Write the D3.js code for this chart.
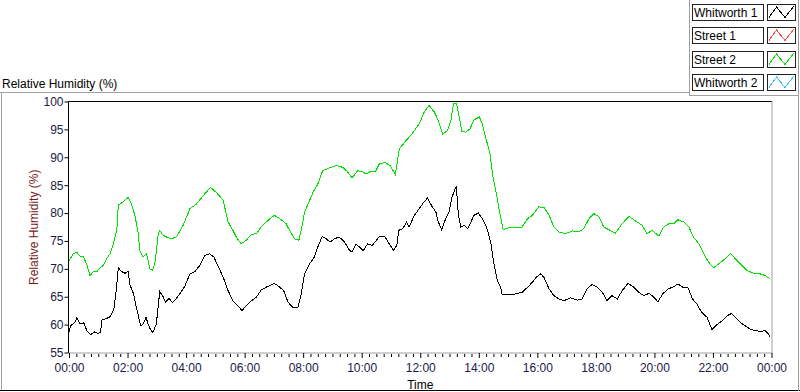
<!DOCTYPE html>
<html>
<head>
<meta charset="utf-8">
<script src="https://cdn.jsdelivr.net/npm/d3@7"></script>
<style>
  body { margin: 0; background: #fff; }
  svg { display: block; font-family: "Liberation Sans", Arial, sans-serif; }
</style>
</head>
<body>
<script>
// Chart size
const width = 800, height = 392;

// Legend entries
const seriesNames = ["Whitworth 1", "Street 1", "Street 2", "Whitworth 2"];
const seriesColors = ["#000000", "#ff4a4a", "#00e000", "#40bfff"];

// Axis ticks
const yTicks = [55, 60, 65, 70, 75, 80, 85, 90, 95, 100];
const xTickMinutes = [0, 120, 240, 360, 480, 600, 720, 840, 960, 1080, 1200, 1320, 1440];
const xTickLabels = ["00:00", "02:00", "04:00", "06:00", "08:00", "10:00", "12:00",
                     "14:00", "16:00", "18:00", "20:00", "22:00", "00:00"];

// Street 2 (green): minutes since midnight / relative humidity
const street2Times = [0, 9, 16, 22, 29, 36, 43, 50, 57, 63, 70, 77, 84, 91, 98, 101, 111, 121, 128, 135,
  142, 145, 152, 159, 162, 166, 171, 176, 183, 186, 193, 200, 210, 220, 234, 248, 261, 275, 290, 302,
  316, 326, 336, 343, 353, 363, 374, 384, 394, 408, 421, 432, 445, 452, 462, 471, 476, 483, 492, 500,
  510, 520, 534, 548, 561, 571, 580, 592, 602, 609, 619, 628, 636, 648, 658, 669, 677, 691, 704, 718,
  728, 738, 749, 757, 766, 776, 783, 788, 794, 800, 805, 813, 822, 830, 841, 846, 854, 863, 868, 875,
  882, 890, 902, 916, 928, 940, 950, 963, 974, 984, 994, 1004, 1018, 1032, 1045, 1055, 1066, 1076, 1086, 1096,
  1107, 1120, 1134, 1148, 1161, 1175, 1185, 1195, 1209, 1219, 1230, 1240, 1248, 1260, 1270, 1280, 1291, 1301, 1311, 1321,
  1332, 1345, 1356, 1366, 1376, 1390, 1403, 1413, 1427, 1437];
const street2Values = [71.5, 72.7, 73.0, 72.3, 72.2, 70.9, 68.8, 69.5, 69.5, 70.1, 70.6, 71.8, 72.7, 74.5, 76.9, 81.4, 82.0, 82.8, 81.6, 79.6,
  76.3, 73.3, 72.1, 72.7, 71.5, 70.0, 69.7, 70.9, 76.3, 76.9, 76.0, 75.7, 75.4, 75.7, 77.8, 80.8, 81.6, 83.1, 84.6, 83.7,
  82.3, 78.4, 76.9, 75.7, 74.5, 75.1, 76.2, 76.3, 77.5, 78.7, 79.6, 79.0, 78.1, 76.9, 75.4, 75.1, 76.9, 80.2, 82.0, 83.7,
  85.2, 87.6, 88.1, 88.5, 88.2, 87.4, 86.3, 87.6, 87.4, 87.0, 87.5, 87.4, 88.8, 89.1, 88.5, 86.9, 91.5, 93.0, 94.3, 96.0,
  98.1, 99.3, 98.1, 96.6, 94.2, 94.8, 96.6, 99.6, 99.7, 97.2, 94.7, 94.5, 95.1, 96.7, 97.2, 96.3, 93.6, 90.6, 87.0, 84.0,
  80.5, 77.0, 77.4, 77.5, 77.4, 79.0, 79.6, 81.1, 81.0, 79.6, 77.5, 76.6, 76.3, 76.8, 76.6, 77.2, 79.0, 79.9, 79.4, 77.5,
  77.0, 76.4, 78.1, 79.4, 78.6, 77.8, 76.3, 76.9, 75.9, 77.5, 78.1, 78.1, 78.8, 78.4, 77.6, 75.7, 74.5, 72.7, 71.2, 70.2,
  70.9, 71.8, 72.8, 71.8, 70.9, 69.7, 69.2, 69.2, 68.8, 68.2];

// Whitworth 1 (black): minutes since midnight / relative humidity
const whitworth1Times = [0, 3, 12, 16, 22, 31, 36, 44, 53, 60, 65, 67, 77, 84, 92, 98, 101, 108, 115, 121,
  125, 132, 138, 147, 152, 158, 162, 167, 172, 179, 186, 193, 198, 205, 212, 220, 228, 237, 248, 258,
  268, 278, 288, 297, 305, 316, 326, 336, 346, 355, 363, 374, 384, 394, 404, 421, 432, 440, 449, 459,
  469, 476, 483, 493, 503, 510, 519, 527, 535, 544, 554, 565, 575, 580, 588, 597, 603, 612, 622, 636,
  648, 657, 665, 672, 676, 684, 692, 697, 708, 718, 726, 735, 744, 752, 757, 764, 773, 779, 785, 790,
  794, 798, 803, 810, 817, 824, 830, 839, 847, 856, 865, 871, 878, 885, 888, 902, 916, 929, 940, 950,
  958, 967, 974, 984, 994, 1004, 1015, 1028, 1042, 1052, 1062, 1072, 1083, 1093, 1103, 1113, 1124, 1134, 1146, 1158,
  1168, 1178, 1189, 1199, 1207, 1217, 1228, 1240, 1248, 1258, 1269, 1278, 1287, 1297, 1308, 1318, 1328, 1338, 1349, 1358,
  1366, 1376, 1386, 1396, 1407, 1417, 1427, 1434, 1437];
const whitworth1Values = [58.6, 59.8, 60.4, 61.2, 60.2, 60.3, 59.0, 58.2, 58.7, 58.4, 58.7, 60.8, 61.1, 61.4, 62.7, 67.1, 70.2, 69.5, 69.2, 69.5,
  67.1, 65.6, 63.1, 59.8, 60.1, 61.3, 60.1, 59.1, 58.6, 60.1, 65.9, 65.0, 64.0, 64.7, 64.0, 64.7, 65.6, 66.8, 69.1, 69.5,
  70.6, 72.4, 72.7, 72.1, 70.6, 68.5, 66.1, 64.3, 63.4, 62.5, 63.4, 64.3, 64.9, 66.2, 66.7, 67.4, 66.7, 66.1, 64.0, 63.1,
  63.0, 65.5, 69.1, 70.9, 72.1, 73.9, 75.8, 75.4, 74.8, 75.4, 75.7, 74.8, 73.3, 73.0, 74.4, 73.8, 73.2, 74.5, 74.2, 75.8,
  75.7, 74.4, 73.3, 74.2, 76.9, 77.2, 78.4, 77.5, 79.6, 80.8, 81.8, 82.7, 81.2, 80.2, 78.4, 77.0, 79.2, 80.2, 82.8, 84.0,
  84.8, 79.8, 77.5, 77.8, 77.2, 78.4, 79.6, 80.0, 79.0, 77.5, 74.5, 70.9, 67.9, 66.7, 65.4, 65.4, 65.5, 65.8, 66.7, 67.6,
  68.5, 69.1, 68.4, 66.4, 65.2, 64.6, 64.3, 64.8, 64.4, 64.6, 66.4, 67.2, 66.7, 65.8, 64.3, 65.2, 64.6, 66.1, 67.4, 66.7,
  65.8, 65.2, 65.6, 64.9, 64.1, 65.5, 66.4, 66.8, 67.3, 66.7, 66.6, 64.6, 63.7, 62.2, 61.3, 59.1, 60.0, 60.6, 61.6, 62.0,
  61.3, 60.4, 59.8, 59.2, 58.9, 58.8, 58.9, 58.3, 57.7];

// Plot area
const plotLeft = 68.5, plotRight = 772, plotTop = 101.5, plotBottom = 353;

const svg = d3.select("body")
      .append("svg")
      .attr("width", width)
      .attr("height", height);

const x = d3.scaleLinear().domain([0, 1440]).range([plotLeft + 0.5, plotRight - 0.5]);
const y = d3.scaleLinear().domain([55, 100]).range([plotBottom - 0.5, plotTop]);

// Outer frame
svg.append("line").attr("x1", 0).attr("x2", 689).attr("y1", 92.5).attr("y2", 92.5).attr("stroke", "#a0a0a0");
svg.append("line").attr("x1", 1.5).attr("x2", 1.5).attr("y1", 92).attr("y2", 391).attr("stroke", "#a0a0a0");
svg.append("line").attr("x1", 0).attr("x2", width).attr("y1", 390.5).attr("y2", 390.5).attr("stroke", "#000");
svg.append("line").attr("x1", 798.5).attr("x2", 798.5).attr("y1", 0).attr("y2", 391).attr("stroke", "#a0a0a0");
svg.append("line").attr("x1", 689.5).attr("x2", 689.5).attr("y1", 0).attr("y2", 95).attr("stroke", "#a0a0a0");
svg.append("line").attr("x1", 689).attr("x2", 799).attr("y1", 95.5).attr("y2", 95.5).attr("stroke", "#a0a0a0");

// Graph title
svg.append("text")
    .attr("x", 2).attr("y", 88)
    .style("font-size", "12px")
    .text("Relative Humidity (%)");

// Plot area border (dark top/left, light bottom/right)
svg.append("line").attr("x1", plotLeft).attr("x2", plotRight).attr("y1", plotTop).attr("y2", plotTop).attr("stroke", "#000");
svg.append("line").attr("x1", plotLeft).attr("x2", plotLeft).attr("y1", plotTop).attr("y2", plotBottom).attr("stroke", "#000");
svg.append("line").attr("x1", plotRight).attr("x2", plotRight).attr("y1", plotTop).attr("y2", plotBottom).attr("stroke", "#a0a0a0");
svg.append("line").attr("x1", plotLeft).attr("x2", plotRight + 0.5).attr("y1", plotBottom).attr("y2", plotBottom).attr("stroke", "#a0a0a0");

// Y axis
const yAxis = svg.append("g")
    .attr("transform", `translate(${plotLeft},0)`)
    .call(d3.axisLeft(y).tickValues(yTicks).tickSize(4).tickPadding(1));
yAxis.select(".domain").remove();
yAxis.selectAll("line").attr("stroke", "#000");
yAxis.selectAll("text")
    .style("font-size", "12px")
    .style("font-family", "'Liberation Sans', Arial, sans-serif")
    .attr("fill", "#1a1a48");

// X axis: minor ticks every 15 minutes
const minorTicks = d3.range(0, 1441, 15).filter(m => m % 120 !== 0);
const xMinor = svg.append("g")
    .attr("transform", `translate(0,${plotBottom + 1})`)
    .call(d3.axisBottom(x).tickValues(minorTicks).tickSize(3).tickFormat(""));
xMinor.select(".domain").remove();
xMinor.selectAll("line").attr("stroke", "#000");

// X axis: major ticks every 2 hours
const xAxis = svg.append("g")
    .attr("transform", `translate(0,${plotBottom})`)
    .call(d3.axisBottom(x).tickValues(xTickMinutes).tickSize(5)
          .tickFormat((d, i) => xTickLabels[i]));
xAxis.select(".domain").remove();
xAxis.selectAll("line").attr("stroke", "#000");
xAxis.selectAll("text")
    .attr("y", 19).attr("dy", null)
    .style("font-size", "12px")
    .style("font-family", "'Liberation Sans', Arial, sans-serif")
    .attr("fill", "#1a1a48");

// Axis names
svg.append("text")
    .attr("x", (plotLeft + plotRight) / 2).attr("y", 389)
    .attr("text-anchor", "middle")
    .style("font-size", "12px")
    .text("Time");

svg.append("text")
    .attr("transform", `translate(38,${(plotTop + plotBottom) / 2}) rotate(-90)`)
    .attr("text-anchor", "middle")
    .style("font-size", "12px")
    .attr("fill", "#7a1a1a")
    .text("Relative Humidity (%)");

// Data lines
const line = d3.line()
    .x(d => x(d[0]))
    .y(d => y(d[1]));

const plotData = [
    { color: seriesColors[2], points: d3.zip(street2Times, street2Values) },
    { color: seriesColors[0], points: d3.zip(whitworth1Times, whitworth1Values) }
];

svg.append("g")
    .selectAll("path")
    .data(plotData)
    .enter().append("path")
    .attr("d", d => line(d.points))
    .attr("fill", "none")
    .attr("stroke", d => d.color)
    .attr("stroke-width", 1)
    .style("shape-rendering", "crispEdges");

// Legend
const legendTop = 4, rowStep = 23.3;
const legend = svg.append("g")
    .selectAll("g")
    .data(seriesNames)
    .enter().append("g")
    .attr("transform", (d, i) => `translate(0,${Math.round(legendTop + i * rowStep)})`);

legend.append("rect")
    .attr("x", 692.5).attr("y", 0.5)
    .attr("width", 71).attr("height", 16)
    .attr("fill", "#fff").attr("stroke", "#222");

legend.append("text")
    .attr("x", 694).attr("y", 13)
    .style("font-size", "12px")
    .text(d => d);

legend.append("rect")
    .attr("x", 767.5).attr("y", 0.5)
    .attr("width", 28).attr("height", 16)
    .attr("fill", "#fff").attr("stroke", "#222");

legend.append("polyline")
    .attr("points", "769,13.5 776.5,3 785,13.5 793.5,2.5")
    .attr("fill", "none")
    .attr("stroke", (d, i) => seriesColors[i])
    .style("shape-rendering", "crispEdges");
</script>
</body>
</html>
